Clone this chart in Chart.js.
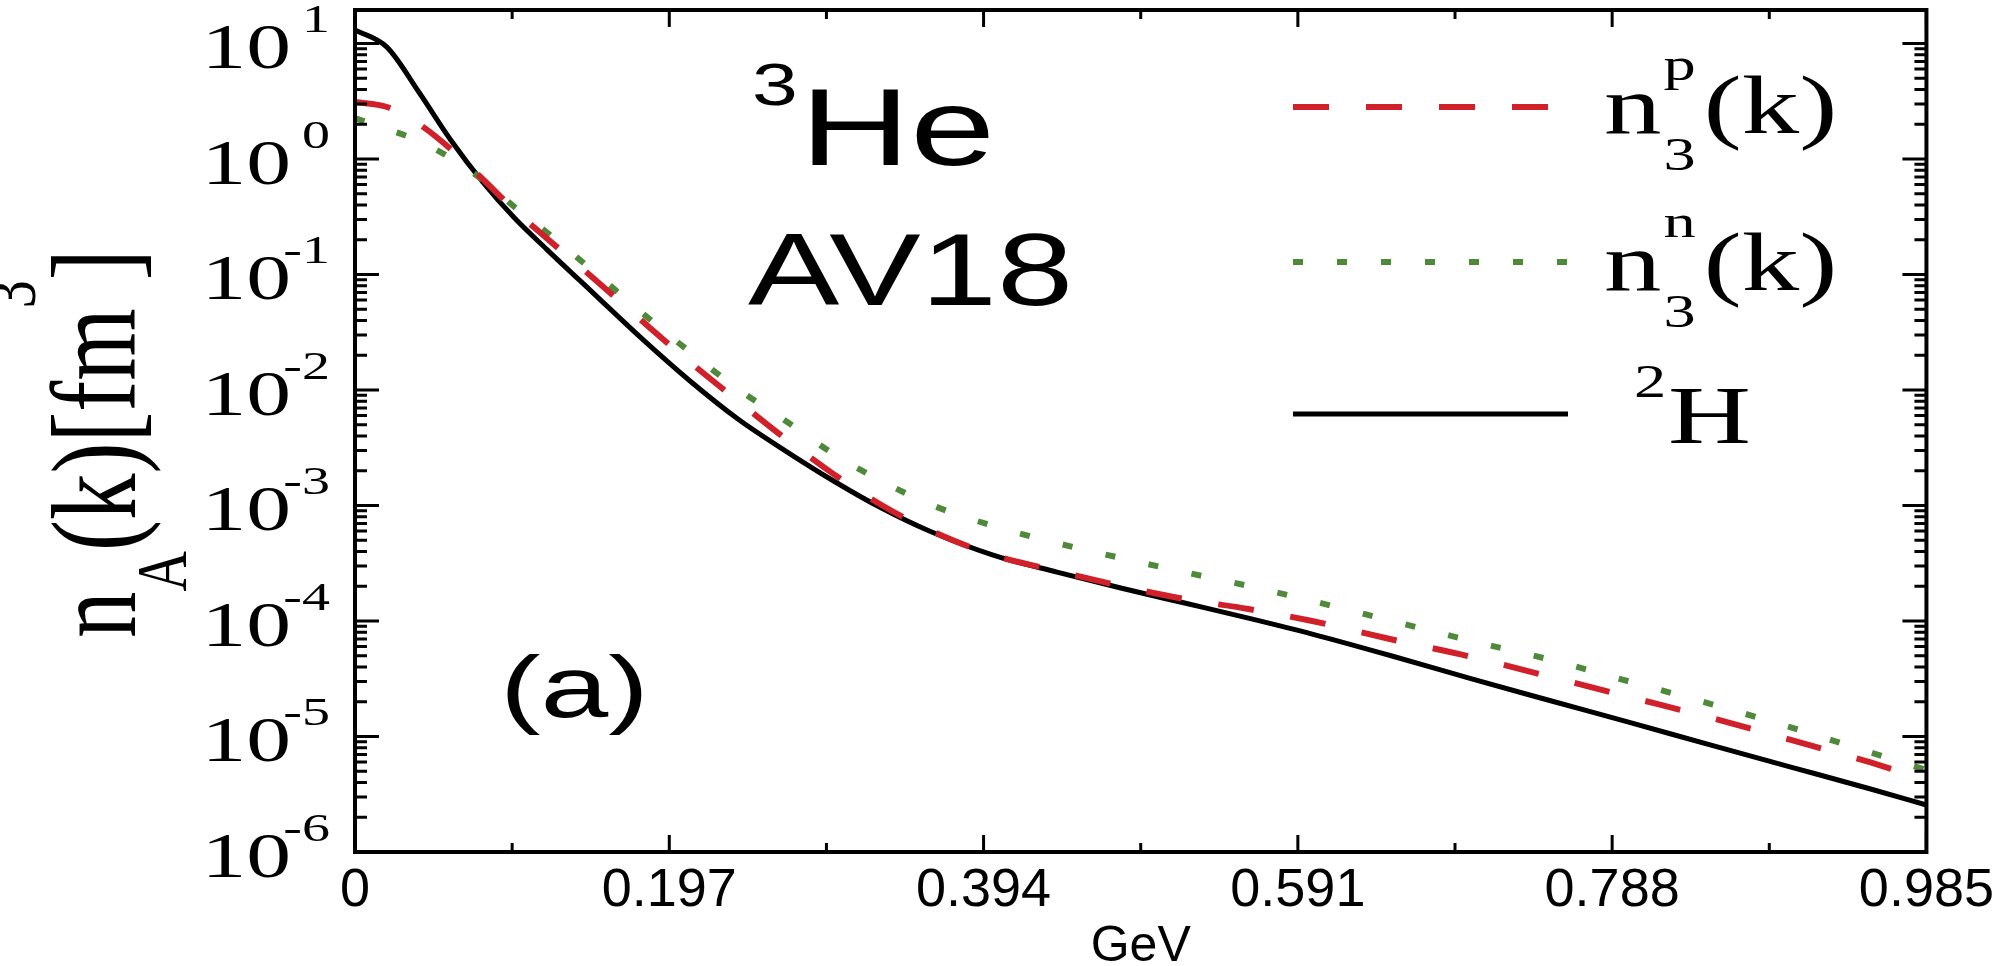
<!DOCTYPE html>
<html>
<head>
<meta charset="utf-8">
<script src="https://cdn.jsdelivr.net/npm/chart.js@4.4.1/dist/chart.umd.min.js"></script>
<style>
  html, body { margin: 0; padding: 0; background: #fff; }
</style>
</head>
<body>
<canvas id="chart" width="2001" height="966"></canvas>
<script>
// momentum grid (GeV) and the three momentum distributions n(k) [fm^3]
const kValues = [0, 0.02, 0.04, 0.06, 0.08, 0.10, 0.12, 0.15, 0.18, 0.21, 0.24, 0.27, 0.30, 0.33, 0.36,
  0.40, 0.44, 0.48, 0.52, 0.56, 0.60, 0.65, 0.70, 0.75, 0.80, 0.85, 0.90, 0.95, 0.985];

const protonHe3 = [3.12, 2.82, 2.01, 1.22, 0.671, 0.361, 0.207, 0.0914, 0.0395, 0.0174, 8.04e-3, 3.77e-3,
  1.87e-3, 1.01e-3, 6.14e-4, 3.72e-4, 2.71e-4, 2.01e-4, 1.55e-4, 1.27e-4, 1.0e-4, 6.92e-5, 4.88e-5,
  3.27e-5, 2.18e-5, 1.45e-5, 9.33e-6, 5.96e-6, 4.2e-6];

const neutronHe3 = [2.26, 1.82, 1.43, 1.02, 0.658, 0.384, 0.233, 0.105, 0.0465, 0.0213, 0.0102, 5.4e-3,
  2.79e-3, 1.63e-3, 1.03e-3, 6.65e-4, 4.73e-4, 3.51e-4, 2.65e-4, 2.01e-4, 1.49e-4, 1.0e-4, 6.71e-5,
  4.59e-5, 2.96e-5, 1.91e-5, 1.2e-5, 7.26e-6, 5.13e-6];

const deuteron = [13.1, 9.3, 3.8, 1.46, 0.632, 0.308, 0.166, 0.0677, 0.0277, 0.01197, 5.61e-3, 2.96e-3,
  1.63e-3, 9.5e-4, 6.01e-4, 3.72e-4, 2.65e-4, 1.93e-4, 1.43e-4, 1.06e-4, 7.71e-5, 4.98e-5, 3.15e-5,
  2.03e-5, 1.31e-5, 8.43e-6, 5.44e-6, 3.51e-6, 2.55e-6];

const xTickValues = [0, 0.197, 0.394, 0.591, 0.788, 0.985];
const xTickLabels = ["0", "0.197", "0.394", "0.591", "0.788", "0.985"];
const yTickValues = [1e-6, 1e-5, 1e-4, 1e-3, 1e-2, 1e-1, 1, 10];
const yTickExponents = ["-6", "-5", "-4", "-3", "-2", "-1", "0", "1"];

const SERIF = "'Liberation Serif', 'Times New Roman', serif";
const SANS = "'Liberation Sans', Arial, sans-serif";
const NARROW = "'Liberation Sans Narrow', 'Arial Narrow', 'Liberation Sans', sans-serif";
const SX = 1.4; // the original figure is stretched horizontally

function toPoints(ys) {
  return kValues.map((k, i) => ({ x: k, y: ys[i] }));
}

// draw text stretched along x, returns the drawn width
function stretchText(ctx, str, x, y, font, sx, align) {
  ctx.save();
  ctx.font = font;
  ctx.textAlign = align || "left";
  ctx.textBaseline = "alphabetic";
  ctx.translate(x, y);
  ctx.scale(sx, 1);
  ctx.fillText(str, 0, 0);
  const w = ctx.measureText(str).width * sx;
  ctx.restore();
  return w;
}

const framePlugin = {
  id: "frame",
  afterDatasetsDraw(chart) {
    const { ctx, chartArea: a, scales } = chart;
    const x = scales.x, y = scales.y;
    ctx.save();
    ctx.fillStyle = "#000";
    ctx.strokeStyle = "#000";

    // tick marks, pointing inwards on all four sides
    ctx.lineWidth = 3;
    ctx.beginPath();
    xTickValues.forEach((v, i) => {
      const px = x.getPixelForValue(v);
      ctx.moveTo(px, a.bottom); ctx.lineTo(px, a.bottom - 17);
      ctx.moveTo(px, a.top); ctx.lineTo(px, a.top + 17);
      if (i < xTickValues.length - 1) {
        const mx = x.getPixelForValue((v + xTickValues[i + 1]) / 2);
        ctx.moveTo(mx, a.bottom); ctx.lineTo(mx, a.bottom - 9);
        ctx.moveTo(mx, a.top); ctx.lineTo(mx, a.top + 9);
      }
    });
    yTickValues.forEach((dec) => {
      for (let m = 1; m <= 9; m++) {
        const v = m * dec;
        if (v > y.max) break;
        const py = y.getPixelForValue(v);
        const len = m === 1 ? 24 : 12;
        ctx.moveTo(a.left, py); ctx.lineTo(a.left + len, py);
        ctx.moveTo(a.right, py); ctx.lineTo(a.right - len, py);
      }
    });
    ctx.stroke();

    ctx.lineWidth = 4;
    ctx.strokeRect(a.left, a.top, a.right - a.left, a.bottom - a.top);

    // y tick labels 10^n
    yTickValues.forEach((v, i) => {
      const py = y.getPixelForValue(v);
      stretchText(ctx, "10", a.left - 64, py + 25, "64px " + SERIF, SX, "right");
      stretchText(ctx, yTickExponents[i], a.left - 25, py - 11, "40px " + SERIF, SX, "right");
    });

    // y axis title: n_A(k) [fm^3]
    ctx.save();
    ctx.translate(135, 638);
    ctx.rotate(-Math.PI / 2);
    ctx.scale(1, 1.3);
    ctx.textBaseline = "alphabetic";
    let cx = 0;
    const big = "93px " + SERIF, small = "56px " + SERIF;
    ctx.font = big; ctx.fillText("n", cx, 0); cx += ctx.measureText("n").width;
    ctx.font = small; ctx.fillText("A", cx, 39); cx += ctx.measureText("A").width;
    ctx.font = big; ctx.fillText("(k)[fm", cx, 0); cx += ctx.measureText("(k)[fm").width;
    ctx.font = small; ctx.fillText("3", cx, -77); cx += ctx.measureText("3").width;
    ctx.font = big; ctx.fillText("]", cx, 0);
    ctx.restore();

    // annotations
    stretchText(ctx, "3", 752, 105, "60px " + SANS, SX * 0.98);
    stretchText(ctx, "He", 800, 165, "109px " + SANS, SX);
    stretchText(ctx, "AV18", 748, 305, "102px " + SANS, SX * 0.96);
    stretchText(ctx, "(a)", 500, 717, "87px " + SANS, SX);

    // legend
    const ds = chart.data.datasets;
    const rows = [107, 262, 414];
    ds.forEach((d, i) => {
      ctx.save();
      ctx.strokeStyle = d.borderColor;
      ctx.lineWidth = d.borderWidth;
      ctx.setLineDash(d.borderDash || []);
      ctx.beginPath();
      ctx.moveTo(1293, rows[i]);
      ctx.lineTo(1568, rows[i]);
      ctx.stroke();
      ctx.restore();
    });
    const lf = "82px " + SERIF, sf = "46px " + SERIF;
    [["3", "p", 133], ["3", "n", 290]].forEach(([sub, sup, base]) => {
      let lx = 1604;
      lx += stretchText(ctx, "n", lx, base, lf, SX);
      const w1 = stretchText(ctx, sub, lx + 2, base + 37, sf, SX);
      const w2 = stretchText(ctx, sup, lx + 2, base - 53, sf, SX);
      lx += Math.max(w1, w2) + 10;
      stretchText(ctx, "(k)", lx, base, lf, SX);
    });
    stretchText(ctx, "2", 1634, 397, sf, SX);
    stretchText(ctx, "H", 1668, 443, lf, SX);

    ctx.restore();
  }
};

new Chart(document.getElementById("chart"), {
  type: "line",
  data: {
    datasets: [
      { label: "n3p(k)", data: toPoints(protonHe3), borderColor: "#d0202a", borderWidth: 6, borderDash: [36, 37] },
      { label: "n3n(k)", data: toPoints(neutronHe3), borderColor: "#4f8a3b", borderWidth: 6, borderDash: [10, 34] },
      { label: "2H", data: toPoints(deuteron), borderColor: "#000000", borderWidth: 5 }
    ]
  },
  options: {
    responsive: false,
    animation: false,
    devicePixelRatio: 1,
    layout: { padding: { left: 355, right: 55, top: 10, bottom: 0 } },
    elements: {
      point: { radius: 0 },
      line: { cubicInterpolationMode: "monotone", fill: false }
    },
    plugins: { legend: { display: false }, tooltip: { enabled: false } },
    scales: {
      x: {
        type: "linear",
        min: 0,
        max: 0.985,
        grid: { display: false, drawTicks: false },
        border: { display: false },
        afterBuildTicks: (s) => { s.ticks = xTickValues.map((v) => ({ value: v })); },
        afterFit: (s) => { s.height = 114; },
        ticks: {
          autoSkip: false,
          maxRotation: 0,
          padding: 7,
          color: "#000",
          font: { family: NARROW, size: 54 },
          callback: (v, i) => xTickLabels[i]
        },
        title: {
          display: true,
          text: "GeV",
          color: "#000",
          font: { family: NARROW, size: 50, lineHeight: 0.8 },
          padding: { top: 0, bottom: -1 }
        }
      },
      y: { type: "logarithmic", min: 1e-6, max: 19.5, display: false }
    }
  },
  plugins: [framePlugin]
});
</script>
</body>
</html>
